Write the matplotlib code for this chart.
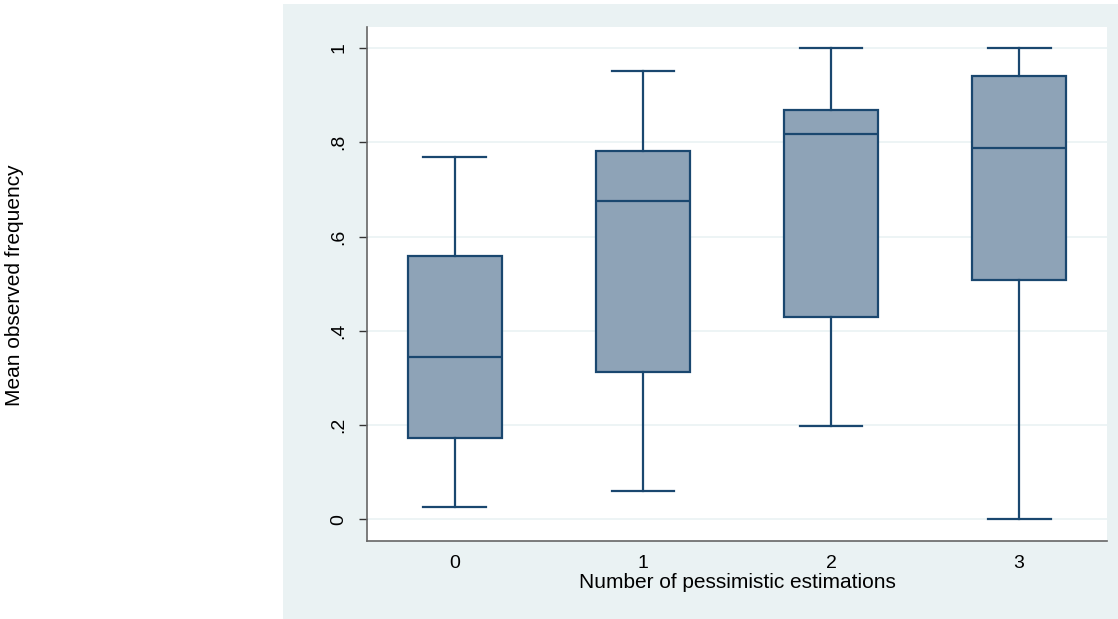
import numpy as np
import matplotlib.pyplot as plt
from matplotlib.patches import Rectangle

plt.rcParams['font.family'] = ['Liberation Sans', 'DejaVu Sans']

# box plot summary values
groups = ['0', '1', '2', '3']
whislo = [0.026, 0.060, 0.198, 0.000]
q1 = [0.172, 0.313, 0.430, 0.508]
med = [0.344, 0.676, 0.818, 0.787]
q3 = [0.559, 0.782, 0.869, 0.940]
whishi = [0.769, 0.952, 1.000, 1.000]
yticks = [0, 0.2, 0.4, 0.6, 0.8, 1.0]
yticklabels = ['0', '.2', '.4', '.6', '.8', '1']

navy = '#1a476f'
fill = '#8ea3b7'
bg = '#eaf2f3'

fig = plt.figure(figsize=(11.18, 6.19), dpi=100)
fig.patch.set_facecolor('white')
fig.add_artist(Rectangle((283/1118, 0), 1 - 283/1118, 1 - 4/619,
                         transform=fig.transFigure, facecolor=bg,
                         edgecolor='none', zorder=-10))

ax = fig.add_axes([367/1118, 1 - 541/619, 740/1118, 514/619])
ax.set_facecolor('white')
ax.set_zorder(1)

stats = []
for i in range(len(groups)):
    stats.append(dict(whislo=whislo[i], q1=q1[i], med=med[i], q3=q3[i],
                      whishi=whishi[i], fliers=[], label=groups[i]))

ax.bxp(stats, positions=range(len(groups)), widths=0.5, patch_artist=True,
       showfliers=False, capwidths=0.335,
       boxprops=dict(facecolor=fill, edgecolor=navy, linewidth=1.6),
       medianprops=dict(color=navy, linewidth=1.6),
       whiskerprops=dict(color=navy, linewidth=1.6),
       capprops=dict(color=navy, linewidth=1.6), zorder=3)

ax.set_xlim(-0.468, 3.468)
ax.set_ylim(-0.046, 1.0446)
ax.set_yticks(yticks)
ax.set_yticklabels(yticklabels, rotation=90, va='center')
ax.grid(axis='y', color=bg, linewidth=1.2, zorder=0)
ax.set_axisbelow(True)

for s in ['top', 'right']:
    ax.spines[s].set_visible(False)
for s in ['left', 'bottom']:
    ax.spines[s].set_color('#666666')
    ax.spines[s].set_linewidth(1.2)

ax.tick_params(axis='y', length=6, width=1, color='#333333', labelsize=14, pad=8)
ax.tick_params(axis='x', length=0, labelsize=14, pad=10)

ax.set_xlabel('Number of pessimistic estimations', fontsize=15, labelpad=1)
fig.text(15/1118, 1 - 285/619, 'Mean observed frequency', rotation=90,
         ha='center', va='center', fontsize=15)

fig.savefig('out.png', dpi=100)
